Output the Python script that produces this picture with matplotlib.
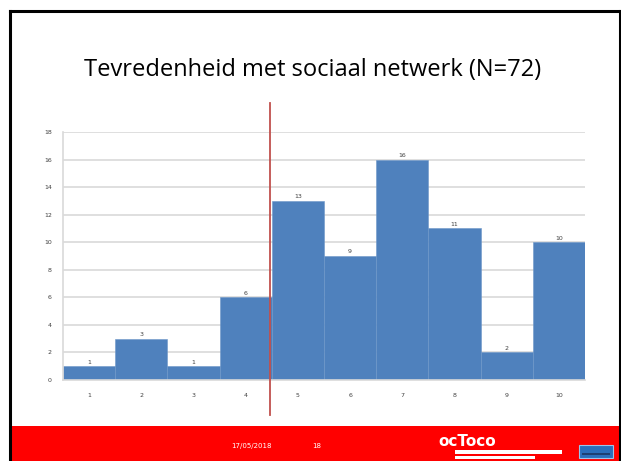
import matplotlib.pyplot as plt
from matplotlib.patches import Rectangle
from matplotlib.lines import Line2D

scores = [1, 2, 3, 4, 5, 6, 7, 8, 9, 10]
counts = [1, 3, 1, 6, 13, 9, 16, 11, 2, 10]
yticks = [0, 2, 4, 6, 8, 10, 12, 14, 16, 18]
title = 'Tevredenheid met sociaal netwerk (N=72)'
footer_date = '17/05/2018'
footer_page = '18'
cut_off = 4.46

W, H = 621, 461
fig = plt.figure(figsize=(W / 100, H / 100), dpi=100)


def fx(px):
    return px / W


def fy(py):
    return 1 - py / H


# slide frame and red footer
fig.patches.append(Rectangle((fx(11), 0), 1 - fx(11), fy(426), transform=fig.transFigure,
                             facecolor='#ff0000', edgecolor='none', zorder=0))
for xs, ys in [([10, 10], [11, 461]), ([10, 620], [11, 11]), ([620, 620], [11, 461])]:
    fig.lines.append(Line2D([fx(x) for x in xs], [fy(y) for y in ys], transform=fig.transFigure,
                            color='black', lw=2.2, zorder=5))

fig.text(fx(313), fy(70), title, ha='center', va='center', fontsize=17,
         family='Open Sans', color='black')

ax = fig.add_axes([fx(63), fy(380), fx(585) - fx(63), fy(132) - fy(380)])
ax.bar(scores, counts, width=1.0, color='#4f81bd', edgecolor='#6d97c9', linewidth=0.4, zorder=2)
for s, c in zip(scores, counts):
    ax.text(s, c + 0.12, str(c), ha='center', va='bottom', fontsize=4.5, color='#404040')

ax.set_xlim(0.5, 10.5)
ax.set_ylim(0, 18)
ax.set_yticks(yticks)
ax.set_xticks(scores)
ax.tick_params(axis='both', length=0, labelsize=4.5, labelcolor='#404040')
ax.tick_params(axis='x', pad=9)
ax.tick_params(axis='y', pad=8)
ax.grid(axis='y', color='#d9d9d9', lw=1.2, zorder=1)
ax.set_axisbelow(True)
for side in ['top', 'right']:
    ax.spines[side].set_visible(False)
for side in ['left', 'bottom']:
    ax.spines[side].set_color('#d9d9d9')
    ax.spines[side].set_linewidth(1.2)

# cut-off line between 4 and 5
ax.plot([cut_off, cut_off], [-2.54, 20.1], color='#c0504d', lw=1.3, clip_on=False, zorder=4)

# footer texts and logos
fig.text(fx(251), fy(446), footer_date, ha='center', va='center', fontsize=5, color='white')
fig.text(fx(317), fy(446), footer_page, ha='center', va='center', fontsize=5, color='white')
fig.text(fx(438), fy(441), 'ocToco', ha='left', va='center', fontsize=11, color='white',
         fontweight='bold', family='DejaVu Sans')
fig.patches.append(Rectangle((fx(455), fy(454)), fx(107), fy(450) - fy(454),
                             transform=fig.transFigure, facecolor='white', edgecolor='none'))
fig.patches.append(Rectangle((fx(455), fy(459)), fx(80), fy(456) - fy(459),
                             transform=fig.transFigure, facecolor='white', edgecolor='none'))
fig.patches.append(Rectangle((fx(579), fy(458)), fx(34), fy(445) - fy(458),
                             transform=fig.transFigure, facecolor='#2a6ebb', edgecolor='#9cc4ea', lw=0.8))
fig.patches.append(Rectangle((fx(582), fy(455)), fx(28), fy(453) - fy(455),
                             transform=fig.transFigure, facecolor='#1d3f73', edgecolor='none'))

fig.savefig('out.png', dpi=100)
